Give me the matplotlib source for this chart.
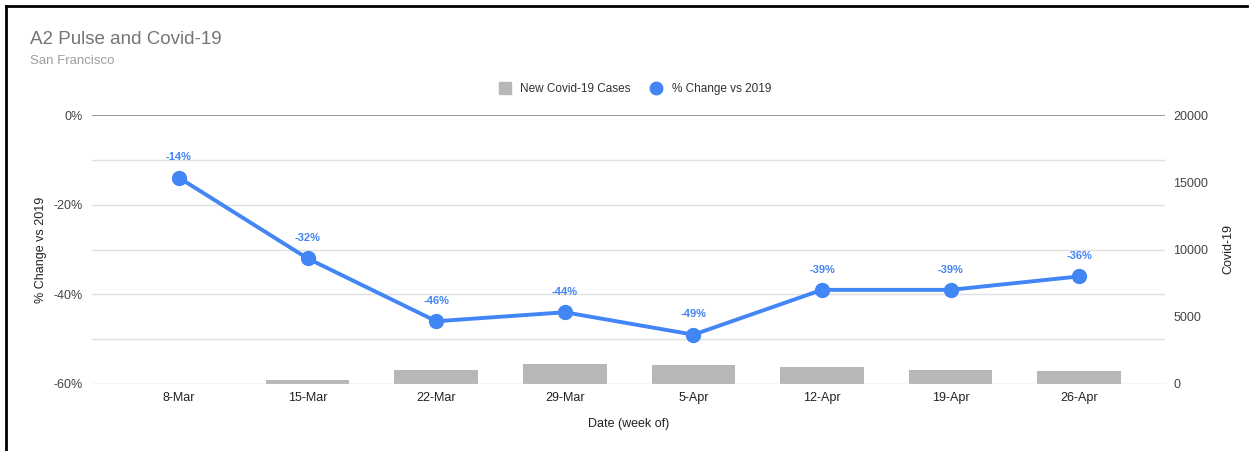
import numpy as np
import matplotlib.pyplot as plt
from matplotlib.lines import Line2D

weeks = ["8-Mar", "15-Mar", "22-Mar", "29-Mar", "5-Apr", "12-Apr", "19-Apr", "26-Apr"]
pct_change = [-14, -32, -46, -44, -49, -39, -39, -36]
new_cases = [20, 320, 1010, 1490, 1380, 1230, 1010, 940]
left_ticks = [0, -20, -40, -60]
right_ticks = [0, 5000, 10000, 15000, 20000]

blue = '#4285F4'
bar_gray = '#b7b7b7'
text_gray = '#444444'

plt.rcParams['font.family'] = ['Liberation Sans', 'DejaVu Sans']

fig = plt.figure(figsize=(12.55, 4.51), dpi=100)
W, H = 1255, 451
ax = fig.add_axes([92 / W, 1 - 384 / H, (1165 - 92) / W, (384 - 115) / H])
ax2 = ax.twinx()

x = np.arange(len(weeks))

# bars on right axis, line on left axis (line drawn on top)
ax2.bar(x, new_cases, width=0.65, color=bar_gray, zorder=1)
ax2.set_ylim(0, 20000)
ax2.set_yticks(right_ticks)
ax2.set_yticklabels([str(v) for v in right_ticks], fontsize=9, color=text_gray)
ax2.set_ylabel("Covid-19", fontsize=9, color='#222222', labelpad=10)

ax.set_zorder(ax2.get_zorder() + 1)
ax.patch.set_visible(False)
ax.plot(x, pct_change, color=blue, linewidth=2.8, marker='o', markersize=10,
        zorder=3, clip_on=False)
for xi, v in zip(x, pct_change):
    ax.annotate(f"{v}%", (xi, v), xytext=(0, 11), textcoords='offset points',
                ha='center', va='bottom', fontsize=8, color=blue, fontweight='bold')

ax.set_ylim(-60, 0)
ax.set_yticks(left_ticks)
ax.set_yticklabels([f"{v}%" for v in left_ticks], fontsize=9, color=text_gray)
ax.set_xlim(-0.677, 7.667)
ax.set_xticks(x)
ax.set_xticklabels(weeks, fontsize=9, color='#222222')
ax.set_ylabel("% Change vs 2019", fontsize=9, color='#222222', labelpad=4)
ax.set_xlabel("Date (week of)", fontsize=9, color='#222222', labelpad=10)

# gridlines every 10%
for g in range(-50, 0, 10):
    ax.axhline(g, color='#e0e0e0', linewidth=1, zorder=0)
ax.axhline(-60, color='#d0d0d0', linewidth=1, zorder=0)
ax.axhline(0, color='#888888', linewidth=1.2, zorder=0)

for a in (ax, ax2):
    for s in a.spines.values():
        s.set_visible(False)
    a.tick_params(length=0, pad=6)
ax.tick_params(axis='y', pad=7)

fig.text(30 / W, 1 - 39 / H, "A2 Pulse and Covid-19", fontsize=13.5, color='#757575',
         va='center', ha='left')
fig.text(30 / W, 1 - 61 / H, "San Francisco", fontsize=9.5, color='#9e9e9e',
         va='center', ha='left')

handles = [Line2D([], [], marker='s', linestyle='none', markersize=9,
                  color=bar_gray, label="New Covid-19 Cases"),
           Line2D([], [], marker='o', linestyle='none', markersize=9,
                  color=blue, label="% Change vs 2019")]
fig.legend(handles=handles, loc='center', bbox_to_anchor=(632 / W, 1 - 89 / H),
           ncol=2, frameon=False, fontsize=8.5, handletextpad=0.3,
           columnspacing=1.2, labelcolor='#333333')

# screenshot border (left and top)
fig.add_artist(Line2D([6 / W, 6 / W], [0, 1 - 6 / H], color='black', linewidth=2,
                      transform=fig.transFigure))
fig.add_artist(Line2D([6 / W, 1247 / W], [1 - 6 / H, 1 - 6 / H], color='black',
                      linewidth=2, transform=fig.transFigure))

fig.savefig('out.png', dpi=100)
